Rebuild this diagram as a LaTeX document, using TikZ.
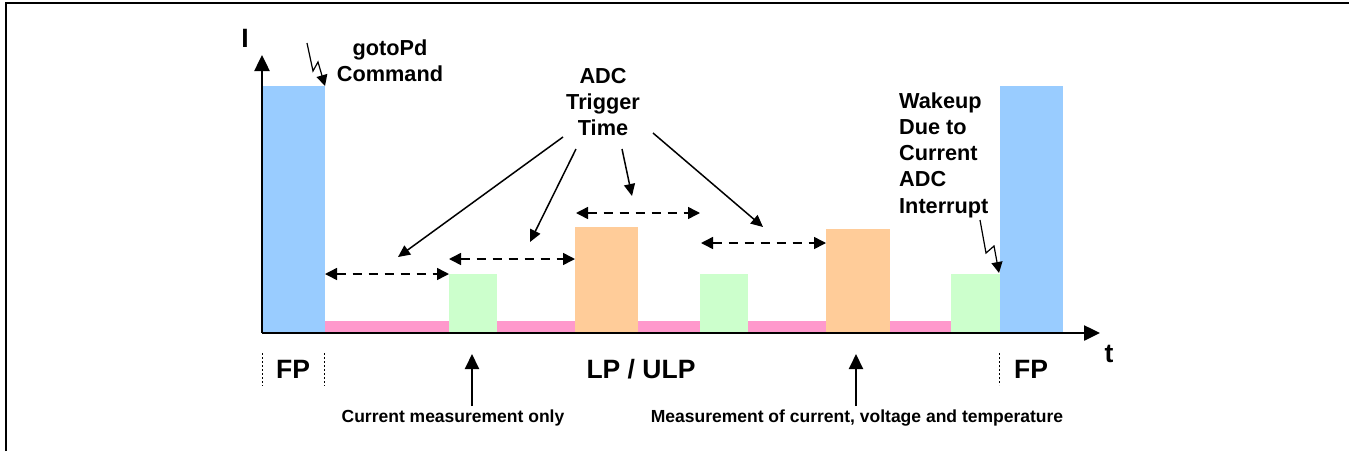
\documentclass[tikz,border=0pt]{standalone}
\usepackage{fontspec}
\setmainfont{Liberation Sans}
\usetikzlibrary{arrows.meta}
\definecolor{fpblue}{HTML}{99CCFF}
\definecolor{lppink}{HTML}{FF99CC}
\definecolor{curgreen}{HTML}{CCFFCC}
\definecolor{allorange}{HTML}{FFCC99}
\tikzset{
	axisline/.style={line width=2.5pt, -{Triangle[length=16pt,width=15pt]}},
	trig/.style={line width=1.5pt, -{Triangle[length=12pt,width=11pt]}},
	spanline/.style={line width=1.5pt, dash pattern=on 9pt off 7pt, {Triangle[length=12pt,width=12pt]}-{Triangle[length=12pt,width=12pt]}},
	bolt/.style={line width=1.2pt, -{Triangle[length=11pt,width=11pt]}},
	meas/.style={line width=2pt, -{Triangle[length=15pt,width=14pt]}},
	modeline/.style={line width=1pt, dash pattern=on 2pt off 2pt},
	big/.style={font=\fontsize{21.7}{26.3}\selectfont\bfseries, inner sep=0pt},
	phase/.style={font=\fontsize{26.5}{30}\selectfont\bfseries, inner sep=0pt, anchor=base},
	small/.style={font=\fontsize{17.5}{20}\selectfont\bfseries, inner sep=0pt, anchor=base}
}
\begin{document}
\begin{tikzpicture}[x=1pt, y=-1pt]
	\useasboundingbox (0,0) rectangle (1349,451);
	\draw [line width=2.5pt] (6,451) -- (6,3) -- (1349,3);

	% bars
	\fill [fpblue] (262,86) rectangle (325,333);
	\fill [lppink] (325,321) rectangle (449,333);
	\fill [curgreen] (449,274) rectangle (497,333);
	\fill [lppink] (497,321) rectangle (575,333);
	\fill [allorange] (575,227) rectangle (638,333);
	\fill [lppink] (638,321) rectangle (700,333);
	\fill [curgreen] (700,274) rectangle (748,333);
	\fill [lppink] (748,321) rectangle (826,333);
	\fill [allorange] (826,229) rectangle (890,333);
	\fill [lppink] (890,321) rectangle (951,333);
	\fill [curgreen] (951,274) rectangle (1000,333);
	\fill [fpblue] (1000,86) rectangle (1063,333);

	% axes
	\coordinate (origin) at (262,333);
	\coordinate (ytip) at (262,55);
	\coordinate (xtip) at (1100,333);
	\draw [axisline] (origin) -- (ytip);
	\draw [axisline] (origin) -- (xtip);
	\node [phase] (ilabel) at (245,47) {I};
	\node [phase] (tlabel) at (1109,362) {t};

	% trigger intervals
	\coordinate (s0) at (325,274);
	\coordinate (s1) at (449,274);
	\coordinate (s2) at (449,259);
	\coordinate (s3) at (575,259);
	\coordinate (s4) at (576,213);
	\coordinate (s5) at (700,213);
	\coordinate (s6) at (701,243);
	\coordinate (s7) at (826,243);
	\draw [spanline] (s0) -- (s1);
	\draw [spanline] (s2) -- (s3);
	\draw [spanline] (s4) -- (s5);
	\draw [spanline] (s6) -- (s7);

	\node [big, align=center] (adc) at (603,102) {ADC\\Trigger\\Time};
	\coordinate (f1) at (563,137);
	\coordinate (f2) at (576,149);
	\coordinate (f3) at (622,149);
	\coordinate (f4) at (653,133);
	\coordinate (a1) at (398,257);
	\coordinate (a2) at (530,242);
	\coordinate (a3) at (632,196);
	\coordinate (a4) at (763,227);
	\draw [trig] (f1) -- (a1);
	\draw [trig] (f2) -- (a2);
	\draw [trig] (f3) -- (a3);
	\draw [trig] (f4) -- (a4);

	% events
	\node [big, align=center] (gotopd) at (390,61) {gotoPd\\Command};
	\draw [bolt] (307,43) -- (313,71) -- (318,62) -- (325,86);
	\node [big, align=left, anchor=west] (wakeup) at (899,155) {Wakeup\\Due to\\Current\\ADC\\Interrupt};
	\draw [bolt] (980,220) -- (986,253) -- (994,246) -- (999,273);

	% power modes
	\draw [modeline] (262,353) -- (262,386);
	\draw [modeline] (324,353) -- (324,386);
	\draw [modeline] (999,353) -- (999,385);
	\node [phase] (fpleft) at (293,378) {FP};
	\node [phase] (lpulp) at (641,378) {LP / ULP};
	\node [phase] (fpright) at (1031,378) {FP};

	% measurements
	\node [small] (curonly) at (453,422) {Current measurement only};
	\node [small] (fullmeas) at (857,422) {Measurement of current, voltage and temperature};
	\coordinate (m1) at (472,354);
	\coordinate (m2) at (856,354);
	\draw [meas] (curonly.north -| m1) ++(0,-3) -- (m1);
	\draw [meas] (fullmeas.north -| m2) ++(0,-3) -- (m2);
\end{tikzpicture}
\end{document}
